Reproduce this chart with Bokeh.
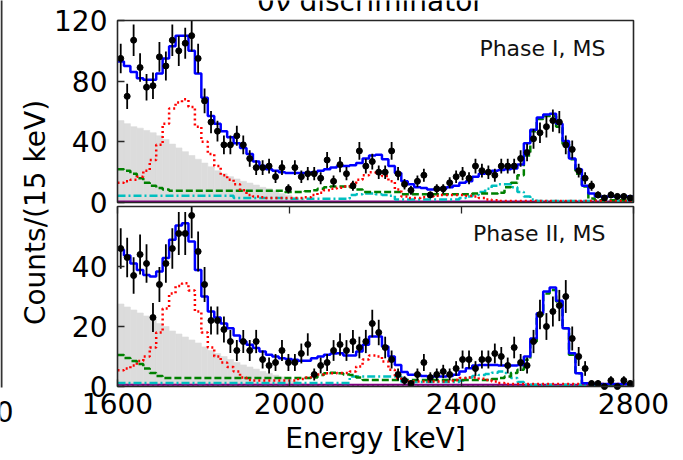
import numpy as np
from bokeh.plotting import figure
from bokeh.models import Range1d, LinearAxis, FixedTicker, Label
from bokeh.embed import file_html
from bokeh.resources import INLINE

# ---------------- data ----------------
E_MIN, E_MAX, BIN = 1600, 2800, 15
edges = np.arange(E_MIN, E_MAX + BIN, BIN)
centers = edges[:-1] + BIN / 2

x_ticks = [1600, 2000, 2400, 2800]
top_ticks = [0, 40, 80, 120]
bot_ticks = [0, 20, 40]
TOP_MAX, BOT_MAX = 120, 60

top_label = "Phase I, MS"
bot_label = "Phase II, MS"

# Phase I, MS : observed counts per 15 keV bin
top_data = [95, 70, 107, 89, 76, 77, 96, 90, 107, 100,
            105, 110, 95, 67, 53, 47, 38, 38, 44, 38,
            29, 23, 23, 24, 17, 23, 9, 23, 17, 19,
            19, 16, 28, 14, 25, 19, 11, 34, 24, 27,
            20, 20, 34, 19, 12, 8, 14, 18, 5, 9,
            9, 13, 17, 19, 16, 24, 21, 20, 18, 24,
            24, 24, 29, 33, 42, 46, 50, 54, 53, 38,
            35, 21, 16, 11, 5, 3, 5, 4, 4, 3]
top_total = [93, 90, 86, 82, 81, 81, 85, 95, 103, 110,
             110, 100, 85, 69, 57, 52, 47, 43, 39, 36,
             32, 27, 24, 22, 21, 20, 19.5, 19.5, 19.5, 19.5,
             20, 21, 22, 23, 24, 24, 24.5, 26, 29, 31,
             31.5, 28.5, 24, 19.5, 14, 12, 10, 9.5, 8.6, 8.6,
             9, 10, 11, 13, 14, 17, 19, 20, 21, 21.5,
             22, 22.5, 25, 39, 48, 56, 58, 58.5, 52, 40.5,
             29, 22, 11, 6, 4, 4, 4, 4, 4, 4]
top_2nbb = [54, 52, 50, 49, 47.5, 46, 44, 41.5, 38.5, 36,
            33.5, 31, 28.5, 26, 23.5, 21, 19, 17, 15.5, 14,
            12.8, 11.5, 10, 9, 7.8, 6, 4.8, 3.5, 2.2, 1,
            0, 0, 0, 0, 0, 0, 0, 0, 0, 0,
            0, 0, 0, 0, 0, 0, 0, 0, 0, 0,
            0, 0, 0, 0, 0, 0, 0, 0, 0, 0,
            0, 0, 0, 0, 0, 0, 0, 0, 0, 0,
            0, 0, 0, 0, 0, 0, 0, 0, 0, 0]
top_bi = [13, 14, 15, 17, 21, 28, 38, 52, 62, 66,
          68, 63, 50, 40, 32, 24, 18, 15, 12, 8,
          5, 4, 3.5, 3, 3, 3, 3, 3, 3, 3.5,
          5, 6.5, 8, 9, 9.8, 10.5, 12.5, 15, 18, 20,
          19.5, 17.5, 14, 8.5, 4, 3, 3, 3.5, 4, 4.5,
          5, 5, 5, 5, 4.5, 4, 3, 2, 1.5, 1,
          1, 1, 1, 1, 1, 1, 1, 1, 1, 1,
          1, 1, 1, 1, 1, 1, 1, 1, 1, 1]
top_th = [22, 21, 19, 16, 13, 11, 9.5, 8.5, 7.7, 7.7,
          7.7, 7.7, 7.7, 7.7, 7.7, 7.7, 7.7, 7.7, 7.7, 7.7,
          7.7, 7.7, 7.7, 7.7, 7.7, 7.7, 7, 7, 7, 7.5,
          8, 9, 10, 10.5, 10.5, 10.5, 10, 8.5, 7, 7,
          7, 7, 7, 7, 5.5, 5.5, 5.5, 5.5, 5.5, 5.5,
          5.5, 5.5, 5.5, 5.5, 5.5, 6, 6, 6, 6, 6.5,
          10, 13, 18, 31, 47, 55, 57, 57, 50, 38.5,
          28.5, 19, 10.6, 2.6, 1.5, 1.5, 1.5, 1.5, 1.5, 1.5]
top_co = [4.5, 4.5, 4.5, 4.5, 4.5, 4.5, 4.5, 4.5, 4.5, 4.5,
          4.5, 4.5, 4.5, 4.5, 4.5, 4.5, 4.5, 4.5, 3, 3,
          3, 3, 3, 3, 3, 3, 2.5, 2.5, 2.5, 2.5,
          2.5, 2.5, 2.5, 2.5, 2.5, 2.5, 5, 5.5, 6, 6,
          5.5, 5, 4.5, 2, 2, 2, 2, 2, 2, 2,
          2, 2, 2, 3, 4, 5, 7, 9, 11, 12,
          12, 10, 7, 4, 2, 1, 1, 1, 1, 1,
          1, 1, 1, 1, 1, 1, 1, 1, 1, 1]
top_alpha = [0.6] * 80
top_other = [0.3] * 80

# Phase II, MS
bot_data = [46, 43, 37, 44, 41, 23, 34, 41, 46, 51,
            51, 57, 45, 34, 22, 22, 19, 15, 12, 15,
            12, 15, 9, 7, 8, 12, 8, 8, 11, 14,
            4, 7, 8, 12, 14, 12, 15, 13, 15, 21,
            18, 13, 9, 4, 2, 1, 4, 8, 3, 4,
            5, 4, 6, 9, 9, 6, 9, 9, 11, 10,
            7, 13, 8, 7, 15, 24, 20, 25, 27, 30,
            16, 10, 6, 1, 1, 0, 2, 0, 2, 1]
bot_total = [45.6, 43.7, 41, 38.8, 37.2, 36.7, 38.3, 42.8, 48.9, 53.7,
             54.4, 48.3, 38.8, 30, 25, 23, 21, 19.4, 17, 15,
             13.9, 12.8, 11.7, 10.6, 10, 9.4, 9.2, 8.9, 8.6, 8.6,
             9.4, 10, 10.6, 11, 11.1, 10.3, 10.3, 11.7, 13.9, 16.7,
             16.7, 13.3, 10, 7.2, 4.8, 3.9, 3.9, 3.5, 3.3, 3.3,
             3.3, 3.5, 3.9, 5, 6.1, 7, 7.2, 7.2, 7.2, 7,
             7, 7, 7.2, 10, 16, 24.4, 31.7, 33, 28.6, 19.4,
             11.1, 4.4, 1.1, 0.8, 0.8, 0.8, 0.8, 0.8, 0.8, 0.8]
bot_2nbb = [27.5, 26.5, 25.5, 24.5, 23.5, 22.5, 21, 20, 18.5, 17.5,
            16.5, 15.5, 14.5, 13.2, 12, 11, 10, 9, 8, 7.2,
            6.5, 5.8, 5, 4.4, 3.8, 3.2, 2.5, 1.8, 1.1, 0.5,
            0, 0, 0, 0, 0, 0, 0, 0, 0, 0,
            0, 0, 0, 0, 0, 0, 0, 0, 0, 0,
            0, 0, 0, 0, 0, 0, 0, 0, 0, 0,
            0, 0, 0, 0, 0, 0, 0, 0, 0, 0,
            0, 0, 0, 0, 0, 0, 0, 0, 0, 0]
bot_bi = [5.4, 6, 7, 8.5, 10, 13, 18, 26, 31, 33.5,
          34.4, 32, 25, 18, 13, 10, 8, 6.5, 5, 3,
          2.2, 2, 2, 2, 2, 2, 2, 2, 2.5, 3,
          3.9, 4, 4.4, 4.4, 4.5, 4.5, 5, 6.7, 9, 10.3,
          10, 8.3, 5.6, 2.8, 1.7, 1.7, 1.7, 1.7, 1.7, 1.7,
          1.7, 1.7, 2.2, 2.8, 3, 3, 2.6, 2.2, 1.7, 1.2,
          0.8, 0.8, 0.8, 0.8, 0.8, 0.8, 0.8, 0.8, 0.8, 0.8,
          0.8, 0.8, 0.8, 0.8, 0.8, 0.8, 0.8, 0.8, 0.8, 0.8]
bot_th = [10.5, 9.5, 8.5, 7.5, 6, 4.5, 3.5, 2.8, 2.8, 2.8,
          2.8, 2.8, 2.8, 2.8, 2.8, 2.8, 2.8, 2.8, 2.8, 2.8,
          2.8, 2.8, 2.8, 2.8, 2.8, 2.8, 2.8, 2.8, 2.8, 2.8,
          3, 3.8, 4.4, 4.6, 4.4, 4, 3.8, 3, 2.2, 2.2,
          2.2, 2.2, 2.2, 2.2, 2.2, 2.2, 2.2, 2.2, 2.2, 2.2,
          2.2, 2.2, 2.2, 2.2, 2.2, 2.2, 2.2, 2.2, 2.5, 2.8,
          3.3, 4.5, 5.6, 8.9, 15, 24, 31, 32.2, 28.3, 19.4,
          10.6, 4.4, 1.1, 0.6, 0.6, 0.6, 0.6, 0.6, 0.6, 0.6]
bot_co = [1.2, 1.2, 1.2, 1.2, 1.2, 1.2, 1.2, 1.2, 1.2, 1.2,
          1.2, 1.2, 1.2, 1.2, 1.2, 1.2, 1.2, 1.2, 1.2, 1.2,
          1.2, 1.2, 1.2, 1.2, 1.2, 1.2, 1.2, 1.2, 1.2, 1.2,
          1.2, 1.2, 1.2, 1.2, 1.2, 1.2, 3.3, 3.3, 3.3, 3.3,
          3.3, 3.3, 3.3, 3.3, 1.5, 1.5, 1.5, 1.5, 1.5, 1.5,
          1.5, 1.5, 1.5, 2, 3, 3.5, 3.8, 4.2, 4.6, 5,
          4.5, 2.8, 1.5, 0.6, 0.6, 0.6, 0.6, 0.6, 0.6, 0.6,
          0.6, 0.6, 0.6, 0.6, 0.6, 0.6, 0.6, 0.6, 0.6, 0.6]
bot_alpha = [0.6] * 80
bot_other = [0.3] * 80

# ---------------- layout (pixels) ----------------
W, H = 683, 460
PL, PR = 117, 633          # panel left / right pixel
TOP_TOP_PX, TOP_ZERO_PX = 20, 202
BOT_TOP_PX, BOT_ZERO_PX = 206, 386
FONT = "DejaVu Sans"
FS = "28px"
SPINE = "#262626"

kev_per_px = (E_MAX - E_MIN) / (PR - PL)
x_range = Range1d(E_MIN - PL * kev_per_px, E_MAX + (W - PR) * kev_per_px)
top_upx = TOP_MAX / (TOP_ZERO_PX - TOP_TOP_PX)
bot_upx = BOT_MAX / (BOT_ZERO_PX - BOT_TOP_PX)
top_range = Range1d(-(H - TOP_ZERO_PX) * top_upx, TOP_MAX + TOP_TOP_PX * top_upx)
bot_range = Range1d(-(H - BOT_ZERO_PX) * bot_upx, BOT_MAX + BOT_TOP_PX * bot_upx)


def px_x(px):
    return E_MIN + (px - PL) * kev_per_px


def px_y(py):
    return H - py


p = figure(width=W, height=H, x_range=x_range, y_range=Range1d(0, H),
           output_backend="svg", toolbar_location=None,
           min_border_left=0, min_border_right=0, min_border_top=0, min_border_bottom=0,
           x_axis_location=None, y_axis_location=None)
p.extra_y_ranges = {"top": top_range, "bot": bot_range}
p.grid.grid_line_color = None
p.outline_line_color = None
p.background_fill_color = "white"
p.border_fill_color = "white"

# bottom energy axis
xa = LinearAxis(y_range_name="bot", fixed_location=0, bounds=(E_MIN, E_MAX),
                ticker=FixedTicker(ticks=x_ticks),
                major_tick_in=7, major_tick_out=0, minor_tick_in=0, minor_tick_out=0,
                axis_line_color=None, major_tick_line_color=SPINE, major_tick_line_width=1.3,
                major_label_text_font=FONT, major_label_text_font_size=FS,
                major_label_text_color="black", major_label_standoff=6,
                axis_label="Energy [keV]", axis_label_text_font=FONT,
                axis_label_text_font_size=FS, axis_label_text_font_style="normal",
                axis_label_text_color="black", axis_label_standoff=5)
p.add_layout(xa, "below")

# inward ticks along the top edge of the lower panel
ta = LinearAxis(y_range_name="bot", fixed_location=BOT_MAX, ticker=FixedTicker(ticks=x_ticks),
                major_tick_in=7, major_tick_out=0, minor_tick_in=0, minor_tick_out=0,
                axis_line_color=None, major_tick_line_color=SPINE, major_tick_line_width=1.3,
                major_label_overrides={t: "" for t in x_ticks})
p.add_layout(ta, "above")

# count axes of both panels, at the left panel edge
for rname, bounds, ticks in [("top", (0, TOP_MAX), top_ticks), ("bot", (0, BOT_MAX), bot_ticks)]:
    ya = LinearAxis(y_range_name=rname, bounds=bounds, ticker=FixedTicker(ticks=ticks),
                    fixed_location=E_MIN, major_tick_in=7, major_tick_out=0,
                    minor_tick_in=0, minor_tick_out=0, axis_line_color=None,
                    major_tick_line_color=SPINE, major_tick_line_width=1.3,
                    major_label_text_font=FONT, major_label_text_font_size=FS,
                    major_label_text_color="black", major_label_standoff=10)
    p.add_layout(ya, "left")


def ext(v):
    v = np.asarray(v, dtype=float)
    return np.append(v, v[-1])


def draw_panel(rname, ymax, data, total, nbb, bi, th, co, alpha, other):
    p.quad(left=edges[:-1], right=edges[1:], bottom=0, top=nbb, y_range_name=rname,
           fill_color="#dcdcdc", line_color="#dcdcdc", line_width=0.6)
    p.step(edges, ext(other), mode="after", y_range_name=rname,
           line_color="black", line_width=2, line_dash="1 4")
    p.step(edges, ext(alpha), mode="after", y_range_name=rname,
           line_color="purple", line_width=2)
    p.step(edges, ext(co), mode="after", y_range_name=rname,
           line_color="#00bfbf", line_width=2.5, line_dash="8 3 2 3")
    p.step(edges, ext(th), mode="after", y_range_name=rname,
           line_color="green", line_width=2.5, line_dash="7 3")
    p.step(edges, ext(bi), mode="after", y_range_name=rname,
           line_color="red", line_width=2.5, line_dash="2 3")
    p.step(edges, ext(total), mode="after", y_range_name=rname,
           line_color="blue", line_width=2.5)
    d = np.asarray(data, dtype=float)
    err = np.sqrt(d)
    lo = d - err
    hi = np.minimum(d + err, ymax)
    p.segment(x0=centers, y0=lo, x1=centers, y1=hi, y_range_name=rname,
              line_color="black", line_width=1.8)
    p.segment(x0=centers - BIN / 3, y0=d, x1=centers + BIN / 3, y1=d, y_range_name=rname,
              line_color="black", line_width=1.8)
    p.scatter(centers, d, y_range_name=rname, size=6, marker="circle",
              fill_color="black", line_color="black")
    # panel frame
    p.quad(left=[E_MIN], right=[E_MAX], bottom=[0], top=[ymax], y_range_name=rname,
           fill_color=None, line_color=SPINE, line_width=1.6)


draw_panel("top", TOP_MAX, top_data, top_total, top_2nbb, top_bi, top_th, top_co, top_alpha, top_other)
draw_panel("bot", BOT_MAX, bot_data, bot_total, bot_2nbb, bot_bi, bot_th, bot_co, bot_alpha, bot_other)

# texts
p.add_layout(Label(x=px_x(605), y=px_y(48), text=top_label, text_align="right",
                   text_baseline="alphabetic", text_font=FONT, text_font_size="22px",
                   text_color="#111111"))
p.add_layout(Label(x=px_x(605), y=px_y(233), text=bot_label, text_align="right",
                   text_baseline="alphabetic", text_font=FONT, text_font_size="22px",
                   text_color="#111111"))
p.add_layout(Label(x=px_x(35), y=px_y(212), text="Counts/(15 keV)", angle=np.pi / 2,
                   text_align="center", text_baseline="middle", text_font=FONT,
                   text_font_size=FS, text_color="black"))
p.add_layout(Label(x=px_x(370), y=px_y(1), text="0\u03bd discriminator", text_align="center",
                   text_baseline="alphabetic", text_font=FONT, text_font_size=FS,
                   text_color="black"))
# remnants of the neighbouring panel on the left edge
p.add_layout(Label(x=px_x(13), y=px_y(411), text="2800", text_align="right",
                   text_baseline="middle", text_font=FONT, text_font_size=FS,
                   text_color="black"))
p.segment(x0=[px_x(1)], y0=[px_y(387)], x1=[px_x(1)], y1=[px_y(-2)],
          line_color="#333333", line_width=2)

open("out.html", "w").write(file_html(p, INLINE))
